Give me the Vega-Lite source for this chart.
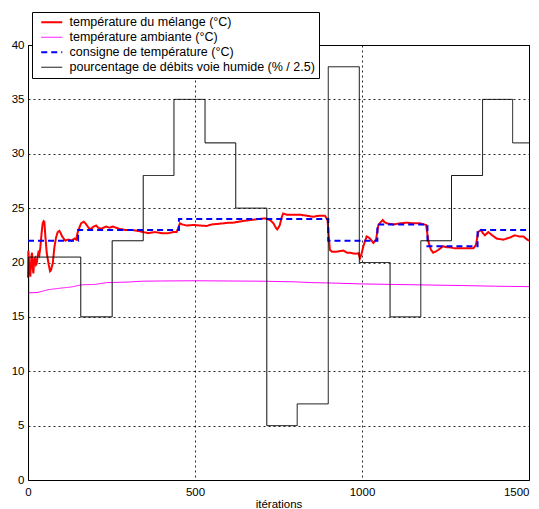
{
"$schema":"https://vega.github.io/schema/vega-lite/v6.json",
"width":501,"height":435,
"autosize":{"type":"none"},
"padding":{"left":28,"top":45,"right":10,"bottom":29},
"background":"white",
"config":{
 "view":{"stroke":"black","strokeWidth":1},
 "font":"Liberation Sans",
 "axis":{"grid":true,"gridColor":"black","gridDash":[2,3],"gridOpacity":0.85,"domain":false,"ticks":false,"labelFont":"Liberation Sans","labelFontSize":11.5,"labelColor":"black","titleFont":"Liberation Sans","titleFontSize":11.5,"titleFontWeight":"normal","titleColor":"black"}
},
"data":{"values":[
{"series":"température du mélange (°C)","iter":0,"value":18.6},
{"series":"température du mélange (°C)","iter":1,"value":21.1},
{"series":"température du mélange (°C)","iter":4,"value":19.5},
{"series":"température du mélange (°C)","iter":7,"value":18.7},
{"series":"température du mélange (°C)","iter":10,"value":20.5},
{"series":"température du mélange (°C)","iter":12,"value":20.9},
{"series":"température du mélange (°C)","iter":14,"value":19.6},
{"series":"température du mélange (°C)","iter":16,"value":19.0},
{"series":"température du mélange (°C)","iter":19,"value":20.3},
{"series":"température du mélange (°C)","iter":21,"value":20.4},
{"series":"température du mélange (°C)","iter":24,"value":19.8},
{"series":"température du mélange (°C)","iter":26,"value":19.9},
{"series":"température du mélange (°C)","iter":29,"value":20.6},
{"series":"température du mélange (°C)","iter":31,"value":20.9},
{"series":"température du mélange (°C)","iter":34,"value":20.7},
{"series":"température du mélange (°C)","iter":37,"value":21.4},
{"series":"température du mélange (°C)","iter":41,"value":22.8},
{"series":"température du mélange (°C)","iter":44,"value":23.6},
{"series":"température du mélange (°C)","iter":47,"value":23.8},
{"series":"température du mélange (°C)","iter":49,"value":23.75},
{"series":"température du mélange (°C)","iter":52,"value":22.4},
{"series":"température du mélange (°C)","iter":56,"value":20.9},
{"series":"température du mélange (°C)","iter":62,"value":19.8},
{"series":"température du mélange (°C)","iter":66,"value":19.2},
{"series":"température du mélange (°C)","iter":69,"value":19.3},
{"series":"température du mélange (°C)","iter":72,"value":19.7},
{"series":"température du mélange (°C)","iter":74,"value":19.9},
{"series":"température du mélange (°C)","iter":79,"value":21.4},
{"series":"température du mélange (°C)","iter":84,"value":22.3},
{"series":"température du mélange (°C)","iter":89,"value":22.8},
{"series":"température du mélange (°C)","iter":94,"value":22.9},
{"series":"température du mélange (°C)","iter":98,"value":22.7},
{"series":"température du mélange (°C)","iter":102,"value":22.4},
{"series":"température du mélange (°C)","iter":107,"value":22.2},
{"series":"température du mélange (°C)","iter":112,"value":22.0},
{"series":"température du mélange (°C)","iter":118,"value":22.1},
{"series":"température du mélange (°C)","iter":124,"value":22.1},
{"series":"température du mélange (°C)","iter":130,"value":22.0},
{"series":"température du mélange (°C)","iter":139,"value":22.2},
{"series":"température du mélange (°C)","iter":144,"value":22.1},
{"series":"température du mélange (°C)","iter":149,"value":22.8},
{"series":"température du mélange (°C)","iter":155,"value":23.3},
{"series":"température du mélange (°C)","iter":159,"value":23.6},
{"series":"température du mélange (°C)","iter":164,"value":23.7},
{"series":"température du mélange (°C)","iter":167,"value":23.75},
{"series":"température du mélange (°C)","iter":172,"value":23.6},
{"series":"température du mélange (°C)","iter":179,"value":23.3},
{"series":"température du mélange (°C)","iter":184,"value":23.1},
{"series":"température du mélange (°C)","iter":189,"value":23.1},
{"series":"température du mélange (°C)","iter":196,"value":23.3},
{"series":"température du mélange (°C)","iter":204,"value":23.4},
{"series":"température du mélange (°C)","iter":210,"value":23.2},
{"series":"température du mélange (°C)","iter":219,"value":23.1},
{"series":"température du mélange (°C)","iter":226,"value":23.2},
{"series":"température du mélange (°C)","iter":234,"value":23.3},
{"series":"température du mélange (°C)","iter":244,"value":23.2},
{"series":"température du mélange (°C)","iter":254,"value":23.3},
{"series":"température du mélange (°C)","iter":264,"value":23.2},
{"series":"température du mélange (°C)","iter":273,"value":23.1},
{"series":"température du mélange (°C)","iter":290,"value":23.0},
{"series":"température du mélange (°C)","iter":310,"value":23.0},
{"series":"température du mélange (°C)","iter":330,"value":22.9},
{"series":"température du mélange (°C)","iter":345,"value":22.8},
{"series":"température du mélange (°C)","iter":360,"value":22.7},
{"series":"température du mélange (°C)","iter":380,"value":22.8},
{"series":"température du mélange (°C)","iter":400,"value":22.7},
{"series":"température du mélange (°C)","iter":420,"value":22.7},
{"series":"température du mélange (°C)","iter":435,"value":22.8},
{"series":"température du mélange (°C)","iter":445,"value":22.8},
{"series":"température du mélange (°C)","iter":450,"value":23.2},
{"series":"température du mélange (°C)","iter":455,"value":23.6},
{"series":"température du mélange (°C)","iter":462,"value":23.5},
{"series":"température du mélange (°C)","iter":475,"value":23.4},
{"series":"température du mélange (°C)","iter":495,"value":23.45},
{"series":"température du mélange (°C)","iter":515,"value":23.4},
{"series":"température du mélange (°C)","iter":535,"value":23.36},
{"series":"température du mélange (°C)","iter":550,"value":23.5},
{"series":"température du mélange (°C)","iter":565,"value":23.54},
{"series":"température du mélange (°C)","iter":585,"value":23.6},
{"series":"température du mélange (°C)","iter":600,"value":23.66},
{"series":"température du mélange (°C)","iter":614,"value":23.66},
{"series":"température du mélange (°C)","iter":640,"value":23.8},
{"series":"température du mélange (°C)","iter":665,"value":23.9},
{"series":"température du mélange (°C)","iter":690,"value":24.0},
{"series":"température du mélange (°C)","iter":710,"value":24.06},
{"series":"température du mélange (°C)","iter":725,"value":23.9},
{"series":"température du mélange (°C)","iter":735,"value":23.6},
{"series":"température du mélange (°C)","iter":742,"value":23.2},
{"series":"température du mélange (°C)","iter":746,"value":23.05},
{"series":"température du mélange (°C)","iter":750,"value":23.2},
{"series":"température du mélange (°C)","iter":754,"value":23.45},
{"series":"température du mélange (°C)","iter":760,"value":24.2},
{"series":"température du mélange (°C)","iter":764,"value":24.5},
{"series":"température du mélange (°C)","iter":775,"value":24.4},
{"series":"température du mélange (°C)","iter":790,"value":24.4},
{"series":"température du mélange (°C)","iter":814,"value":24.4},
{"series":"température du mélange (°C)","iter":835,"value":24.3},
{"series":"température du mélange (°C)","iter":854,"value":24.2},
{"series":"température du mélange (°C)","iter":870,"value":24.3},
{"series":"température du mélange (°C)","iter":889,"value":24.3},
{"series":"température du mélange (°C)","iter":897,"value":23.9},
{"series":"température du mélange (°C)","iter":900,"value":22.5},
{"series":"température du mélange (°C)","iter":904,"value":21.15},
{"series":"température du mélange (°C)","iter":910,"value":21.0},
{"series":"température du mélange (°C)","iter":925,"value":21.0},
{"series":"température du mélange (°C)","iter":944,"value":21.1},
{"series":"température du mélange (°C)","iter":955,"value":20.9},
{"series":"température du mélange (°C)","iter":964,"value":20.9},
{"series":"température du mélange (°C)","iter":980,"value":20.8},
{"series":"température du mélange (°C)","iter":989,"value":20.85},
{"series":"température du mélange (°C)","iter":994,"value":20.4},
{"series":"température du mélange (°C)","iter":999,"value":20.85},
{"series":"température du mélange (°C)","iter":1005,"value":21.6},
{"series":"température du mélange (°C)","iter":1014,"value":22.4},
{"series":"température du mélange (°C)","iter":1020,"value":22.3},
{"series":"température du mélange (°C)","iter":1024,"value":22.2},
{"series":"température du mélange (°C)","iter":1034,"value":21.8},
{"series":"température du mélange (°C)","iter":1042,"value":22.1},
{"series":"température du mélange (°C)","iter":1049,"value":23.45},
{"series":"température du mélange (°C)","iter":1056,"value":23.7},
{"series":"température du mélange (°C)","iter":1062,"value":23.9},
{"series":"température du mélange (°C)","iter":1068,"value":23.7},
{"series":"température du mélange (°C)","iter":1074,"value":23.6},
{"series":"température du mélange (°C)","iter":1094,"value":23.5},
{"series":"température du mélange (°C)","iter":1114,"value":23.6},
{"series":"température du mélange (°C)","iter":1134,"value":23.66},
{"series":"température du mélange (°C)","iter":1154,"value":23.6},
{"series":"température du mélange (°C)","iter":1174,"value":23.6},
{"series":"température du mélange (°C)","iter":1192,"value":23.45},
{"series":"température du mélange (°C)","iter":1199,"value":21.9},
{"series":"température du mélange (°C)","iter":1206,"value":21.2},
{"series":"température du mélange (°C)","iter":1213,"value":20.9},
{"series":"température du mélange (°C)","iter":1220,"value":21.0},
{"series":"température du mélange (°C)","iter":1228,"value":21.15},
{"series":"température du mélange (°C)","iter":1243,"value":21.5},
{"series":"température du mélange (°C)","iter":1253,"value":21.4},
{"series":"température du mélange (°C)","iter":1263,"value":21.4},
{"series":"température du mélange (°C)","iter":1278,"value":21.3},
{"series":"température du mélange (°C)","iter":1293,"value":21.3},
{"series":"température du mélange (°C)","iter":1313,"value":21.3},
{"series":"température du mélange (°C)","iter":1333,"value":21.3},
{"series":"température du mélange (°C)","iter":1341,"value":21.6},
{"series":"température du mélange (°C)","iter":1348,"value":22.8},
{"series":"température du mélange (°C)","iter":1356,"value":23.0},
{"series":"température du mélange (°C)","iter":1362,"value":22.7},
{"series":"température du mélange (°C)","iter":1368,"value":22.5},
{"series":"température du mélange (°C)","iter":1378,"value":22.8},
{"series":"température du mélange (°C)","iter":1390,"value":22.5},
{"series":"température du mélange (°C)","iter":1403,"value":22.2},
{"series":"température du mélange (°C)","iter":1423,"value":22.1},
{"series":"température du mélange (°C)","iter":1443,"value":22.3},
{"series":"température du mélange (°C)","iter":1458,"value":22.5},
{"series":"température du mélange (°C)","iter":1470,"value":22.4},
{"series":"température du mélange (°C)","iter":1483,"value":22.4},
{"series":"température du mélange (°C)","iter":1495,"value":22.1},
{"series":"température du mélange (°C)","iter":1500,"value":22.0},
{"series":"température ambiante (°C)","iter":0,"value":17.2},
{"series":"température ambiante (°C)","iter":30,"value":17.25},
{"series":"température ambiante (°C)","iter":60,"value":17.5},
{"series":"température ambiante (°C)","iter":100,"value":17.65},
{"series":"température ambiante (°C)","iter":130,"value":17.75},
{"series":"température ambiante (°C)","iter":160,"value":17.95},
{"series":"température ambiante (°C)","iter":200,"value":17.98},
{"series":"température ambiante (°C)","iter":235,"value":18.15},
{"series":"température ambiante (°C)","iter":300,"value":18.2},
{"series":"température ambiante (°C)","iter":340,"value":18.28},
{"series":"température ambiante (°C)","iter":400,"value":18.3},
{"series":"température ambiante (°C)","iter":500,"value":18.32},
{"series":"température ambiante (°C)","iter":600,"value":18.3},
{"series":"température ambiante (°C)","iter":700,"value":18.28},
{"series":"température ambiante (°C)","iter":800,"value":18.22},
{"series":"température ambiante (°C)","iter":850,"value":18.15},
{"series":"température ambiante (°C)","iter":900,"value":18.12},
{"series":"température ambiante (°C)","iter":1000,"value":18.03},
{"series":"température ambiante (°C)","iter":1100,"value":17.98},
{"series":"température ambiante (°C)","iter":1200,"value":17.93},
{"series":"température ambiante (°C)","iter":1300,"value":17.88},
{"series":"température ambiante (°C)","iter":1400,"value":17.82},
{"series":"température ambiante (°C)","iter":1500,"value":17.78},
{"series":"consigne de température (°C)","iter":0,"value":22},
{"series":"consigne de température (°C)","iter":150,"value":23},
{"series":"consigne de température (°C)","iter":452,"value":24},
{"series":"consigne de température (°C)","iter":899,"value":22},
{"series":"consigne de température (°C)","iter":1046,"value":23.5},
{"series":"consigne de température (°C)","iter":1196,"value":21.5},
{"series":"consigne de température (°C)","iter":1346,"value":23},
{"series":"consigne de température (°C)","iter":1500,"value":23},
{"series":"pourcentage de débits voie humide (% / 2.5)","iter":0,"value":10},
{"series":"pourcentage de débits voie humide (% / 2.5)","iter":2,"value":20.5},
{"series":"pourcentage de débits voie humide (% / 2.5)","iter":158,"value":15},
{"series":"pourcentage de débits voie humide (% / 2.5)","iter":252,"value":22},
{"series":"pourcentage de débits voie humide (% / 2.5)","iter":345,"value":28},
{"series":"pourcentage de débits voie humide (% / 2.5)","iter":437,"value":35},
{"series":"pourcentage de débits voie humide (% / 2.5)","iter":530,"value":31},
{"series":"pourcentage de débits voie humide (% / 2.5)","iter":622,"value":25},
{"series":"pourcentage de débits voie humide (% / 2.5)","iter":715,"value":5},
{"series":"pourcentage de débits voie humide (% / 2.5)","iter":806,"value":7},
{"series":"pourcentage de débits voie humide (% / 2.5)","iter":899,"value":38},
{"series":"pourcentage de débits voie humide (% / 2.5)","iter":992,"value":20},
{"series":"pourcentage de débits voie humide (% / 2.5)","iter":1084,"value":15},
{"series":"pourcentage de débits voie humide (% / 2.5)","iter":1176,"value":22},
{"series":"pourcentage de débits voie humide (% / 2.5)","iter":1268,"value":28},
{"series":"pourcentage de débits voie humide (% / 2.5)","iter":1361,"value":35},
{"series":"pourcentage de débits voie humide (% / 2.5)","iter":1451,"value":31},
{"series":"pourcentage de débits voie humide (% / 2.5)","iter":1500,"value":31}
]},
"encoding":{
 "x":{"field":"iter","type":"quantitative","scale":{"domain":[0,1500],"nice":false},"axis":{"values":[0,500,1000,1500],"format":"d","title":"itérations","labelPadding":6,"titlePadding":1,"labelFlush":false,"labelAlign":{"expr":"datum.value === 1500 ? 'right' : 'center'"},"labelDx":{"expr":"datum.value === 1500 ? 9 : 0"}}},
 "y":{"field":"value","type":"quantitative","scale":{"domain":[0,40],"nice":false},"axis":{"values":[0,5,10,15,20,25,30,35,40],"format":"d","title":null,"labelPadding":4}},
 "color":{"field":"series","type":"nominal","scale":{"domain":["température du mélange (°C)","température ambiante (°C)","consigne de température (°C)","pourcentage de débits voie humide (% / 2.5)"],"range":["#ff0000","#ff00ff","#0000ff","#000000"]},
  "legend":{"title":null,"orient":"none","legendX":4,"legendY":-33,"direction":"vertical","strokeColor":"black","fillColor":"white","padding":4,"symbolType":"M-3,0H3","symbolSize":49,"symbolOffset":9.5,"labelOffset":11.5,"labelFontSize":12.5,"labelFont":"Liberation Sans","labelColor":"black","rowPadding":2,"labelLimit":400,"cornerRadius":0,
   "encode":{"symbols":{"update":{"strokeWidth":{"signal":"(datum.value === 'température du mélange (°C)' || datum.value === 'consigne de température (°C)') ? 2 : 1"}}}}}},
 "strokeDash":{"field":"series","type":"nominal","scale":{"domain":["température du mélange (°C)","température ambiante (°C)","consigne de température (°C)","pourcentage de débits voie humide (% / 2.5)"],"range":[[1,0],[1,0],[6,4],[1,0]]},
  "legend":{"title":null,"orient":"none","legendX":4,"legendY":-33,"direction":"vertical","strokeColor":"black","fillColor":"white","padding":4,"symbolType":"M-3,0H3","symbolSize":49,"symbolOffset":9.5,"labelOffset":11.5,"labelFontSize":12.5,"labelFont":"Liberation Sans","labelColor":"black","rowPadding":2,"labelLimit":400,"cornerRadius":0,
   "encode":{"symbols":{"update":{"strokeWidth":{"signal":"(datum.value === 'température du mélange (°C)' || datum.value === 'consigne de température (°C)') ? 2 : 1"}}}}}}
},
"layer":[
 {"transform":[{"filter":"datum.series === 'température du mélange (°C)' || datum.series === 'température ambiante (°C)'"}],
  "mark":{"type":"line","interpolate":"linear"},
  "encoding":{"strokeWidth":{"condition":{"test":"datum.series === 'température du mélange (°C)'","value":2},"value":1}}},
 {"transform":[{"filter":"datum.series === 'consigne de température (°C)' || datum.series === 'pourcentage de débits voie humide (% / 2.5)'"}],
  "mark":{"type":"line","interpolate":"step-after"},
  "encoding":{"strokeWidth":{"condition":{"test":"datum.series === 'consigne de température (°C)'","value":2},"value":1}}}
]
}
